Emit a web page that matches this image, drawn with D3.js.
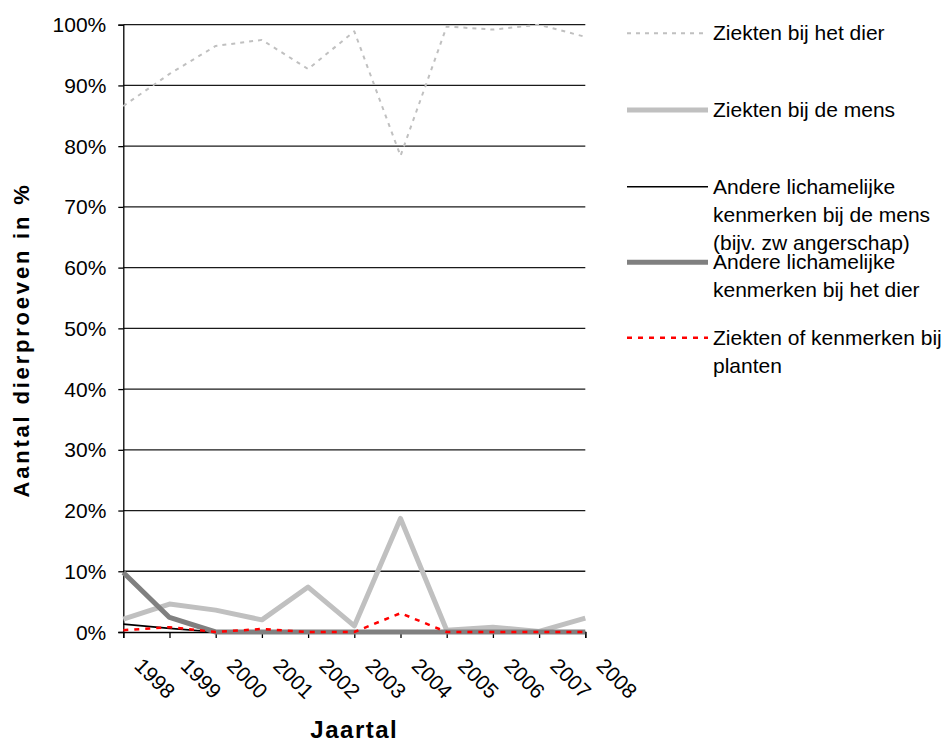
<!DOCTYPE html>
<html>
<head>
<meta charset="utf-8">
<script src="https://cdn.jsdelivr.net/npm/d3@7"></script>
<style>
  body { margin: 0; background: #fff; }
  text { font-family: "Liberation Sans", Arial, sans-serif; fill: #000; }
</style>
</head>
<body>
<svg id="chart"></svg>
<script>
// data (percentages)
const years = ["1998", "1999", "2000", "2001", "2002", "2003", "2004", "2005", "2006", "2007", "2008"];
const ziektenDier = [86.6, 91.9, 96.5, 97.5, 92.7, 98.9, 78.4, 99.7, 99.2, 100, 98.0];
const ziektenMens = [2.1, 4.6, 3.6, 2.0, 7.4, 1.0, 18.7, 0.3, 0.8, 0.1, 2.3];
const andereMens = [1.3, 0.6, 0, 0, 0, 0, 0, 0, 0, 0, 0];
const andereDier = [9.8, 2.4, 0, 0, 0, 0, 0, 0, 0, 0, 0];
const planten = [0.3, 0.8, 0, 0.5, 0, 0, 3.1, 0, 0, 0, 0];
const yTicks = [0, 10, 20, 30, 40, 50, 60, 70, 80, 90, 100];

// legend labels (one array per entry, line by line)
const legendLabels = [
  ["Ziekten bij het dier"],
  ["Ziekten bij de mens"],
  ["Andere lichamelijke", "kenmerken bij de mens", "(bijv. zw angerschap)"],
  ["Andere lichamelijke", "kenmerken bij het dier"],
  ["Ziekten of kenmerken bij", "planten"]
];

const width = 949;
const height = 744;
const margin = { left: 123.3, right: 949 - 585.3, top: 24.7, bottom: 744 - 632 };

const svg = d3.select('svg#chart').attr('width', width).attr('height', height);

const x = d3.scalePoint().domain(years).range([margin.left, width - margin.right]);
const y = d3.scaleLinear().domain([0, 100]).range([height - margin.bottom, margin.top]);

// series styles, drawing order as in the original
const series = [
  { values: ziektenDier, color: '#c0c0c0', w: 2, dash: '4,5' },
  { values: ziektenMens, color: '#c0c0c0', w: 5, dash: null },
  { values: andereMens, color: '#000000', w: 1.6, dash: null },
  { values: andereDier, color: '#808080', w: 5, dash: null },
  { values: planten, color: '#ff0000', w: 2.5, dash: '5,6' }
];

// gridlines
svg.append('g').selectAll('line').data(yTicks.slice(1)).enter().append('line')
  .attr('x1', margin.left).attr('x2', width - margin.right)
  .attr('y1', d => y(d)).attr('y2', d => y(d))
  .attr('stroke', '#1a1a1a').attr('stroke-width', 1.3);

// y axis
const yAxis = d3.axisLeft(y).tickValues(yTicks).tickFormat(d => d + '%').tickSize(5).tickPadding(12);
const yG = svg.append('g').attr('transform', 'translate(' + margin.left + ',0)').call(yAxis);
yG.select('.domain').attr('stroke', '#000').attr('stroke-width', 1.3);
yG.selectAll('.tick line').attr('stroke', '#000').attr('stroke-width', 1.3);
yG.selectAll('.tick text').attr('font-size', 21).attr('font-family', '"Liberation Sans", Arial, sans-serif')
  .attr('dy', 7).attr('fill', '#000');

// x axis
const xAxis = d3.axisBottom(x).tickSize(6).tickFormat('');
const xG = svg.append('g').attr('transform', 'translate(0,' + y(0) + ')').call(xAxis);
xG.select('.domain').attr('stroke', '#000').attr('stroke-width', 1.3);
xG.selectAll('.tick line').attr('stroke', '#000').attr('stroke-width', 1.3);

svg.append('g').selectAll('text').data(years).enter().append('text')
  .attr('transform', d => 'translate(' + (x(d) + 10) + ',' + (y(0) + 35) + ') rotate(45)')
  .attr('font-size', 21)
  .text(d => d);

// lines
const line = d3.line().x((d, i) => x(years[i])).y(d => y(d));
svg.append('g').selectAll('path').data(series).enter().append('path')
  .attr('d', d => line(d.values))
  .attr('fill', 'none')
  .attr('stroke', d => d.color)
  .attr('stroke-width', d => d.w)
  .attr('stroke-dasharray', d => d.dash)
  .attr('stroke-linejoin', 'round');

// axis titles
svg.append('text')
  .attr('transform', 'translate(29,340) rotate(-90)')
  .attr('text-anchor', 'middle')
  .attr('font-size', 22).attr('font-weight', 'bold')
  .attr('letter-spacing', 2.8)
  .text('Aantal dierproeven in %');

svg.append('text')
  .attr('x', (margin.left + width - margin.right) / 2).attr('y', 738)
  .attr('text-anchor', 'middle')
  .attr('font-size', 24).attr('font-weight', 'bold')
  .attr('letter-spacing', 1.5)
  .text('Jaartal');

// legend
const rowY = [33.3, 110, 186.7, 262.3, 337.7];
const legend = svg.append('g');
legendLabels.forEach((lines, i) => {
  const s = series[i];
  legend.append('line')
    .attr('x1', 627).attr('x2', 708)
    .attr('y1', rowY[i]).attr('y2', rowY[i])
    .attr('stroke', s.color).attr('stroke-width', s.w)
    .attr('stroke-dasharray', s.dash);
  const t = legend.append('text').attr('font-size', 21);
  lines.forEach((l, j) => {
    t.append('tspan').attr('x', 713).attr('y', rowY[i] + 7 + j * 28).text(l);
  });
});
</script>
</body>
</html>
